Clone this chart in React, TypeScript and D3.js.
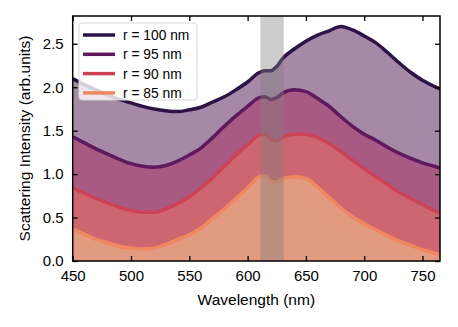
import { useEffect, useRef } from 'react';
import * as d3 from 'd3';

// wavelength grid (nm)
const wavelengths = [450, 460, 470, 480, 490, 500, 510, 520, 530, 540, 550, 560, 570, 580, 590, 600, 610, 615, 620, 625, 630, 640, 650, 660, 670, 680, 690, 700, 710, 720, 730, 740, 750, 760, 765];

// scattering spectra
const r100 = [2.10, 2.03, 1.97, 1.91, 1.86, 1.82, 1.78, 1.75, 1.73, 1.72, 1.74, 1.77, 1.83, 1.89, 1.97, 2.06, 2.17, 2.19, 2.19, 2.24, 2.33, 2.44, 2.53, 2.60, 2.65, 2.70, 2.66, 2.59, 2.51, 2.40, 2.28, 2.17, 2.08, 2.01, 1.98];
const r95 = [1.43, 1.36, 1.29, 1.23, 1.17, 1.12, 1.09, 1.08, 1.10, 1.15, 1.22, 1.30, 1.42, 1.55, 1.67, 1.78, 1.88, 1.89, 1.86, 1.88, 1.93, 1.97, 1.95, 1.87, 1.78, 1.66, 1.55, 1.46, 1.39, 1.31, 1.24, 1.18, 1.13, 1.09, 1.07];
const r90 = [0.84, 0.78, 0.72, 0.67, 0.62, 0.58, 0.56, 0.56, 0.60, 0.66, 0.74, 0.84, 0.96, 1.09, 1.22, 1.34, 1.45, 1.46, 1.40, 1.38, 1.42, 1.46, 1.46, 1.42, 1.35, 1.26, 1.16, 1.06, 0.97, 0.88, 0.79, 0.72, 0.65, 0.58, 0.55];
const r85 = [0.37, 0.31, 0.25, 0.21, 0.17, 0.15, 0.14, 0.15, 0.19, 0.25, 0.30, 0.38, 0.49, 0.60, 0.72, 0.84, 0.97, 0.98, 0.92, 0.91, 0.95, 0.97, 0.95, 0.85, 0.73, 0.61, 0.51, 0.43, 0.36, 0.29, 0.23, 0.18, 0.13, 0.09, 0.07];

const seriesLabels = ['r = 100 nm', 'r = 95 nm', 'r = 90 nm', 'r = 85 nm'];
const lineColors = ['#2e1346', '#5f1a5e', '#cc4356', '#f0875f'];
const fillColors = ['#a689a7', '#a95a83', '#cd6670', '#e29a80'];

const xTicks = [450, 500, 550, 600, 650, 700, 750];
const yTicks = [0.0, 0.5, 1.0, 1.5, 2.0, 2.5];
const bandRange = [611, 631];

export default function App() {
  const svgRef = useRef<SVGSVGElement>(null);

  useEffect(() => {
    const W = 458;
    const H = 327;
    const margin = { top: 16, right: 18, bottom: 66, left: 72.7 };
    const width = W - margin.left - margin.right;
    const height = H - margin.top - margin.bottom;
    const font = 'Liberation Sans, Arial, Helvetica, sans-serif';

    const root = d3.select(svgRef.current);
    root.selectAll('*').remove();
    root.attr('width', W).attr('height', H);

    const svg = root.append('g').attr('transform', `translate(${margin.left},${margin.top})`);

    const x = d3.scaleLinear().domain([450, 765]).range([0, width]);
    const y = d3.scaleLinear().domain([0, 2.82]).range([height, 0]);

    const all = [r100, r95, r90, r85];

    svg.append('clipPath').attr('id', 'plotclip')
      .append('rect').attr('width', width).attr('height', height);

    const plot = svg.append('g').attr('clip-path', 'url(#plotclip)');

    const area = d3.area<number>()
      .x((_, i) => x(wavelengths[i]))
      .y0(y(0))
      .y1(d => y(d))
      .curve(d3.curveMonotoneX);

    const line = d3.line<number>()
      .x((_, i) => x(wavelengths[i]))
      .y(d => y(d))
      .curve(d3.curveMonotoneX);

    all.forEach((vals, k) => {
      plot.append('path')
        .attr('d', area(vals))
        .attr('fill', fillColors[k]);
      plot.append('path')
        .attr('d', line(vals))
        .attr('fill', 'none')
        .attr('stroke', lineColors[k])
        .attr('stroke-width', 3.5);
    });

    // shaded band
    plot.append('rect')
      .attr('x', x(bandRange[0]))
      .attr('width', x(bandRange[1]) - x(bandRange[0]))
      .attr('y', 0)
      .attr('height', height)
      .attr('fill', '#808080')
      .attr('opacity', 0.4);

    // axes with inward ticks on all sides
    const styleAxis = (g: any, hideText: boolean) => {
      g.select('.domain').remove();
      g.selectAll('line').attr('stroke', '#000').attr('stroke-width', 1.3);
      g.selectAll('text').style('font-family', font).style('font-size', '15px').attr('fill', '#000');
      if (hideText) g.selectAll('text').remove();
    };

    svg.append('g')
      .attr('transform', `translate(0,${height})`)
      .call(d3.axisBottom(x).tickValues(xTicks).tickSizeInner(-5).tickSizeOuter(0).tickPadding(9).tickFormat(d3.format('d')))
      .call(g => styleAxis(g, false));
    svg.append('g')
      .call(d3.axisTop(x).tickValues(xTicks).tickSizeInner(-5).tickSizeOuter(0))
      .call(g => styleAxis(g, true));
    svg.append('g')
      .call(d3.axisLeft(y).tickValues(yTicks).tickSizeInner(-5).tickSizeOuter(0).tickPadding(9).tickFormat(d3.format('.1f')))
      .call(g => styleAxis(g, false));
    svg.append('g')
      .attr('transform', `translate(${width},0)`)
      .call(d3.axisRight(y).tickValues(yTicks).tickSizeInner(-5).tickSizeOuter(0))
      .call(g => styleAxis(g, true));

    svg.append('rect')
      .attr('width', width)
      .attr('height', height)
      .attr('fill', 'none')
      .attr('stroke', '#000')
      .attr('stroke-width', 1.5);

    // axis labels
    svg.append('text')
      .attr('x', width / 2)
      .attr('y', height + 44)
      .attr('text-anchor', 'middle')
      .style('font-family', font)
      .style('font-size', '15.5px')
      .text('Wavelength (nm)');

    svg.append('text')
      .attr('transform', 'rotate(-90)')
      .attr('x', -height / 2)
      .attr('y', -43)
      .attr('text-anchor', 'middle')
      .style('font-family', font)
      .style('font-size', '15.5px')
      .text('Scattering Intensity (arb.units)');

    // legend
    const legend = svg.append('g').attr('transform', `translate(${6.3}, ${7})`);
    legend.append('rect')
      .attr('width', 118)
      .attr('height', 77)
      .attr('rx', 3)
      .attr('fill', '#fff')
      .attr('fill-opacity', 0.8)
      .attr('stroke', '#d8d8d8')
      .attr('stroke-width', 1);

    seriesLabels.forEach((lab, k) => {
      const ly = 12 + k * 19.3;
      legend.append('line')
        .attr('x1', 4).attr('x2', 36)
        .attr('y1', ly).attr('y2', ly)
        .attr('stroke', lineColors[k])
        .attr('stroke-width', 3.5);
      legend.append('text')
        .attr('x', 44)
        .attr('y', ly + 5)
        .style('font-family', font)
        .style('font-size', '13.8px')
        .text(lab);
    });
  }, []);

  return (
    <div>
      <svg ref={svgRef} style={{ position: 'absolute', left: 0, top: 0 }}></svg>
    </div>
  );
}
